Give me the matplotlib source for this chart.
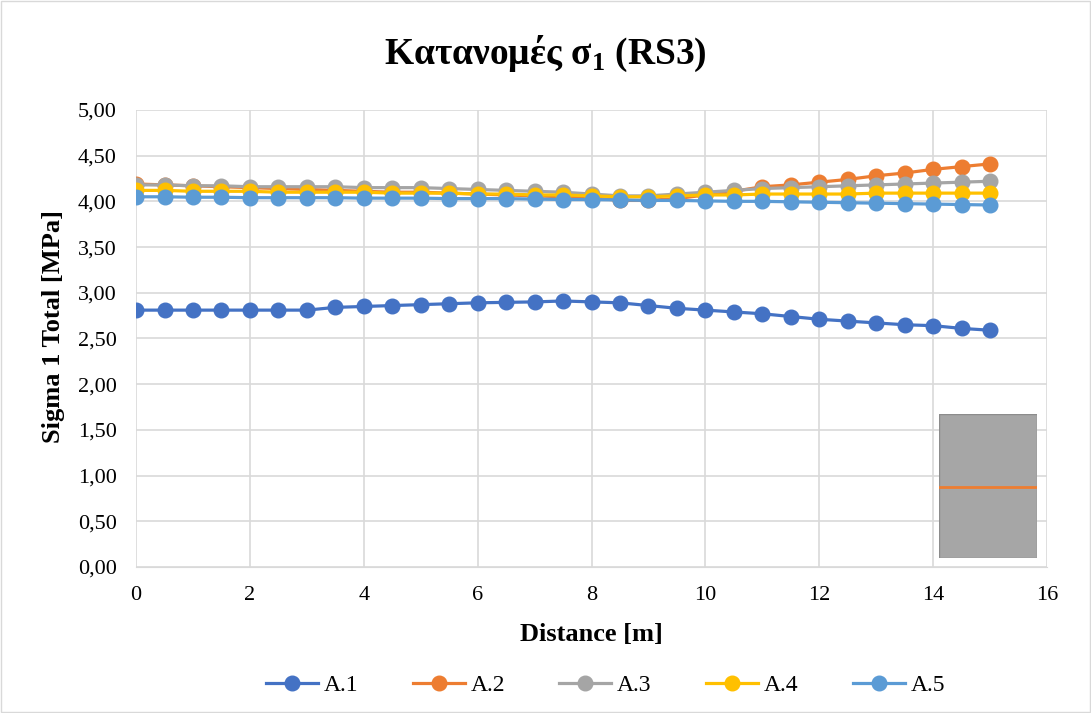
import matplotlib
matplotlib.use("Agg")
import matplotlib.pyplot as plt
from matplotlib.ticker import FuncFormatter, MultipleLocator
from matplotlib.patches import Rectangle

distance = [i * 0.5 for i in range(31)]

a1 = [2.81, 2.81, 2.81, 2.81, 2.81, 2.81, 2.81, 2.84, 2.85, 2.86, 2.87, 2.88, 2.89, 2.895, 2.90, 2.91,
      2.90, 2.89, 2.86, 2.83, 2.81, 2.79, 2.77, 2.74, 2.71, 2.69, 2.67, 2.65, 2.64, 2.61, 2.59]
a2 = [4.19, 4.18, 4.17, 4.16, 4.15, 4.14, 4.13, 4.12, 4.11, 4.10, 4.10, 4.09, 4.08, 4.07, 4.06, 4.05,
      4.04, 4.01, 4.01, 4.03, 4.07, 4.11, 4.16, 4.18, 4.21, 4.24, 4.28, 4.31, 4.35, 4.38, 4.41]
a3 = [4.18, 4.18, 4.17, 4.17, 4.16, 4.16, 4.16, 4.16, 4.15, 4.15, 4.15, 4.14, 4.13, 4.12, 4.11, 4.10,
      4.08, 4.06, 4.06, 4.08, 4.10, 4.12, 4.14, 4.15, 4.16, 4.17, 4.18, 4.19, 4.20, 4.21, 4.22]
a4 = [4.12, 4.12, 4.11, 4.11, 4.11, 4.10, 4.10, 4.10, 4.10, 4.09, 4.09, 4.09, 4.08, 4.08, 4.07, 4.07,
      4.06, 4.05, 4.05, 4.06, 4.07, 4.07, 4.08, 4.08, 4.08, 4.08, 4.09, 4.09, 4.09, 4.09, 4.09]
a5 = [4.05, 4.05, 4.045, 4.045, 4.04, 4.04, 4.04, 4.04, 4.035, 4.035, 4.035, 4.03, 4.03, 4.03, 4.025, 4.02,
      4.02, 4.015, 4.01, 4.01, 4.005, 4.0, 4.0, 3.995, 3.99, 3.985, 3.98, 3.975, 3.97, 3.965, 3.96]

series = [("A.1", a1, "#4472C4"), ("A.2", a2, "#ED7D31"), ("A.3", a3, "#A5A5A5"),
          ("A.4", a4, "#FFC000"), ("A.5", a5, "#5B9BD5")]

plt.rcParams["font.family"] = ["Liberation Serif", "DejaVu Serif"]
plt.rcParams["mathtext.fontset"] = "custom"
plt.rcParams["mathtext.rm"] = "Liberation Serif"
plt.rcParams["mathtext.bf"] = "Liberation Serif:bold"

fig = plt.figure(figsize=(10.91, 7.13), dpi=100)
ax = fig.add_axes([0.1247, 0.2048, 0.835, 0.641])

for name, vals, color in series:
    ax.plot(distance, vals, color=color, lw=2.3, marker="o", markersize=10.5, label=name)

ax.set_xlim(0, 16)
ax.set_ylim(0, 5)
ax.xaxis.set_major_locator(MultipleLocator(2))
ax.yaxis.set_major_locator(MultipleLocator(0.5))
ax.yaxis.set_major_formatter(FuncFormatter(lambda v, p: f"{v:.2f}".replace(".", ",")))
ax.grid(True, color="#d9d9d9", lw=1.2)
ax.set_axisbelow(True)
for s in ["top", "right", "left"]:
    ax.spines[s].set_visible(False)
ax.spines["bottom"].set_color("#d9d9d9")
ax.tick_params(length=0, labelsize=16, pad=14)

ax.set_xlabel("Distance [m]", fontsize=19, fontweight="bold")
ax.set_ylabel("Sigma 1 Total [MPa]", fontsize=19, fontweight="bold")
ax.xaxis.set_label_coords(0.5, -0.122)
ax.yaxis.set_label_coords(-0.078, 0.527)
fig.text(0.5, 0.925, r"Κατανομές σ$_\mathbf{1}$ (RS3)", ha="center", va="center",
         fontsize=27, fontweight="bold")

# small cross-section inset in the lower right
ins = fig.add_axes([939 / 1091, 1 - 558 / 713, 98 / 1091, 144 / 713])
ins.set_xlim(0, 1)
ins.set_ylim(0, 1)
ins.add_patch(Rectangle((0, 0), 1, 1, facecolor="#a6a6a6", edgecolor="#8c8c8c", lw=1))
ins.plot([0, 1], [0.49, 0.49], color="#ED7D31", lw=2)
ins.axis("off")

fig.legend(loc="center", bbox_to_anchor=(0.555, 0.039), ncol=5, frameon=False,
           fontsize=17, handlelength=2.2, columnspacing=2.3, handletextpad=0.25)

fig.patches.append(Rectangle((0.001, 0.001), 0.998, 0.997, transform=fig.transFigure,
                             fill=False, edgecolor="#d9d9d9", lw=1))

fig.savefig("out.png", dpi=100)
